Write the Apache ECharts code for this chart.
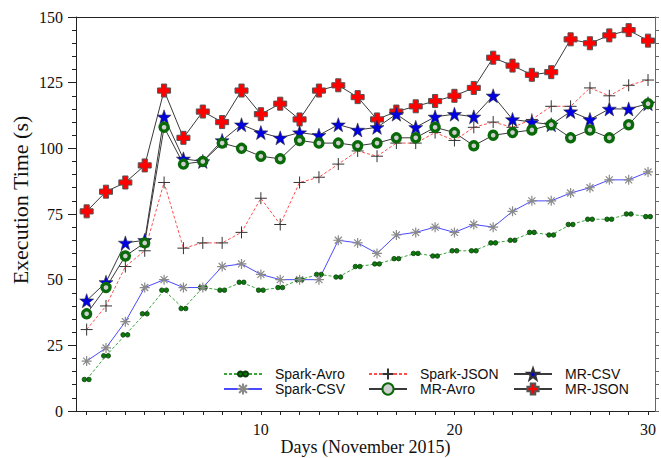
<!DOCTYPE html>
<html>
<head>
<meta charset="utf-8">
<script src="https://cdn.jsdelivr.net/npm/echarts@6/dist/echarts.min.js"></script>
<style>
  html, body { margin: 0; padding: 0; background: #fff; }
  #chart { width: 661px; height: 458px; }
</style>
</head>
<body>
<div id="chart"></div>
<script>
// Days of November 2015
const days = [1,2,3,4,5,6,7,8,9,10,11,12,13,14,15,16,17,18,19,20,21,22,23,24,25,26,27,28,29,30];

// Execution time in seconds per day
const sparkAvro = [12,21,29,37,46,39,47,46,49,46,47,50,52,51,55,56,58,60,59,61,61,64,65,68,67,71,73,73,75,74];
const sparkCsv  = [19,24,34,47,50,47,47,55,56,52,50,50,50,65,64,60,67,68,70,68,71,70,76,80,80,83,85,88,88,91];
const sparkJson = [31,40,55,61,87,62,64,64,68,81,71,87,89,94,99,97,102,102,106,103,108,110,108,111,116,116,123,120,124,126];
const mrAvro    = [37,47,59,64,108,94,95,102,100,97,96,103,102,102,101,102,104,104,108,106,101,105,106,107,109,104,107,104,109,117];
const mrCsv     = [42,49,64,65,112,96,95,103,109,106,104,106,105,109,107,108,113,108,112,113,112,120,111,110,109,114,111,115,115,117];
const mrJson    = [76,83.5,87,93.5,122,104,114,110,122,113,117,111,122,124,119.5,111,114,116,118,120,123,134.5,131.5,128,129,141.5,140,143,145,141];

// Axis tick labels
const xLabelValues = [10, 20, 30];
const yTicks = [0, 25, 50, 75, 100, 125, 150];

const pairs = vals => days.map((d, i) => [d, vals[i]]);

// Marker shapes
const SYM_DOTS = 'path://M0,0M22,22M1,11a5,5 0 1,1 10,0a5,5 0 1,1 -10,0zM11,11a5,5 0 1,1 10,0a5,5 0 1,1 -10,0z';
const SYM_ASTER = 'path://M5,0L5,10M0,5L10,5M1.5,1.5L8.5,8.5M8.5,1.5L1.5,8.5';
const SYM_PLUS = 'path://M5,0L5,10M0,5L10,5';
const SYM_CROSS = 'path://M3,0H7V3H10V7H7V10H3V7H0V3H3Z';
const SYM_STAR = 'path://M10,0L12.35,6.76L19.51,6.91L13.8,11.24L15.88,18.09L10,14L4.12,18.09L6.2,11.24L0.49,6.91L7.65,6.76Z';

const serif = 'Liberation Serif';
const sans = 'Liberation Sans';

const seriesDefs = [
  { name: 'Spark-Avro', vals: sparkAvro, symbol: SYM_DOTS, size: 10,
    line: { color: '#3aa53a', width: 1, type: [3, 2] },
    item: { color: '#0a7a0a', borderColor: '#0b3d0b', borderWidth: 0.8 } },
  { name: 'Spark-CSV', vals: sparkCsv, symbol: SYM_ASTER, size: 10,
    line: { color: '#4a4aff', width: 1 },
    item: { color: 'rgba(0,0,0,0)', borderColor: '#8a8a8a', borderWidth: 1.2 } },
  { name: 'Spark-JSON', vals: sparkJson, symbol: SYM_PLUS, size: 12,
    line: { color: '#ff5050', width: 1, type: [3, 2] },
    item: { color: 'rgba(0,0,0,0)', borderColor: '#333', borderWidth: 1 } },
  { name: 'MR-JSON', vals: mrJson, symbol: SYM_CROSS, size: 13,
    line: { color: '#3a3a3a', width: 1 },
    item: { color: '#ff0000', borderColor: '#555', borderWidth: 1 } },
  { name: 'MR-CSV', vals: mrCsv, symbol: SYM_STAR, size: 14,
    line: { color: '#3a3a3a', width: 1 },
    item: { color: '#0000e0', borderColor: '#333', borderWidth: 0.6 } },
  { name: 'MR-Avro', vals: mrAvro, symbol: 'circle', size: 8,
    line: { color: '#3a3a3a', width: 1 },
    item: { color: '#d0d0d0', borderColor: '#0a6a0a', borderWidth: 3.4 } }
];

const series = seriesDefs.map(s => ({
  name: s.name,
  type: 'line',
  data: pairs(s.vals),
  symbol: s.symbol,
  symbolSize: s.size,
  showAllSymbol: true,
  lineStyle: s.line,
  itemStyle: s.item,
  emphasis: { disabled: true }
}));

// Legend laid out as a 3 x 2 block inside the plot
const legendSlots = [
  { name: 'Spark-Avro', left: 223, top: 367 },
  { name: 'Spark-CSV',  left: 223, top: 382 },
  { name: 'Spark-JSON', left: 368, top: 367 },
  { name: 'MR-Avro',    left: 368, top: 382 },
  { name: 'MR-CSV',     left: 513, top: 367 },
  { name: 'MR-JSON',    left: 513, top: 382 }
];
const legends = legendSlots.map(l => ({
  data: [l.name],
  left: l.left,
  top: l.top,
  padding: 0,
  itemWidth: 38,
  itemHeight: 14,
  selectedMode: false,
  textStyle: { fontFamily: sans, fontSize: 14, color: '#111', padding: [0, 0, 0, 8] }
}));

const chart = echarts.init(document.getElementById('chart'), null, { renderer: 'svg' });
chart.setOption({
  animation: false,
  backgroundColor: '#fff',
  grid: { left: 76, right: 6, top: 17, bottom: 47, outerBoundsMode: 'none' },
  legend: legends,
  xAxis: [
    {
      type: 'value', min: 0.45, max: 30.36, position: 'bottom',
      name: 'Days (November 2015)', nameLocation: 'middle', nameGap: 27, nameMoveOverlap: false,
      nameTextStyle: { fontFamily: serif, fontSize: 18, lineHeight: 18, color: '#111' },
      axisLine: { lineStyle: { color: '#222', width: 1 } },
      axisTick: { show: true, inside: false, length: 4, customValues: days, lineStyle: { color: '#222' } },
      axisLabel: { customValues: xLabelValues, margin: 10, fontFamily: serif, fontSize: 16, color: '#111' },
      splitLine: { show: false }
    },
    {
      type: 'value', min: 0.45, max: 30.36, position: 'top',
      axisLine: { show: true, onZero: false, lineStyle: { color: '#222', width: 1 } },
      axisTick: { show: false }, axisLabel: { show: false }, splitLine: { show: false }
    }
  ],
  yAxis: [
    {
      type: 'value', min: 0, max: 150, interval: 25, position: 'left',
      name: 'Execution Time (s)', nameLocation: 'middle', nameGap: 45, nameMoveOverlap: false,
      nameTextStyle: { fontFamily: serif, fontSize: 22, color: '#111', padding: [0, 0, 0, 28] },
      axisLine: { show: true, lineStyle: { color: '#222', width: 1 } },
      axisTick: { show: true, length: 8, lineStyle: { color: '#222' } },
      minorTick: { show: true, splitNumber: 5, length: 4, lineStyle: { color: '#222' } },
      axisLabel: { customValues: yTicks, margin: 13, fontFamily: serif, fontSize: 16, color: '#111' },
      splitLine: { show: false }
    },
    {
      type: 'value', min: 0, max: 150, interval: 5, position: 'right',
      axisLine: { show: true, onZero: false, lineStyle: { color: '#666', width: 1 } },
      axisTick: { show: true, length: 4, lineStyle: { color: '#666' } },
      axisLabel: { show: false }, splitLine: { show: false }
    }
  ],
  series: series
});
</script>
</body>
</html>
